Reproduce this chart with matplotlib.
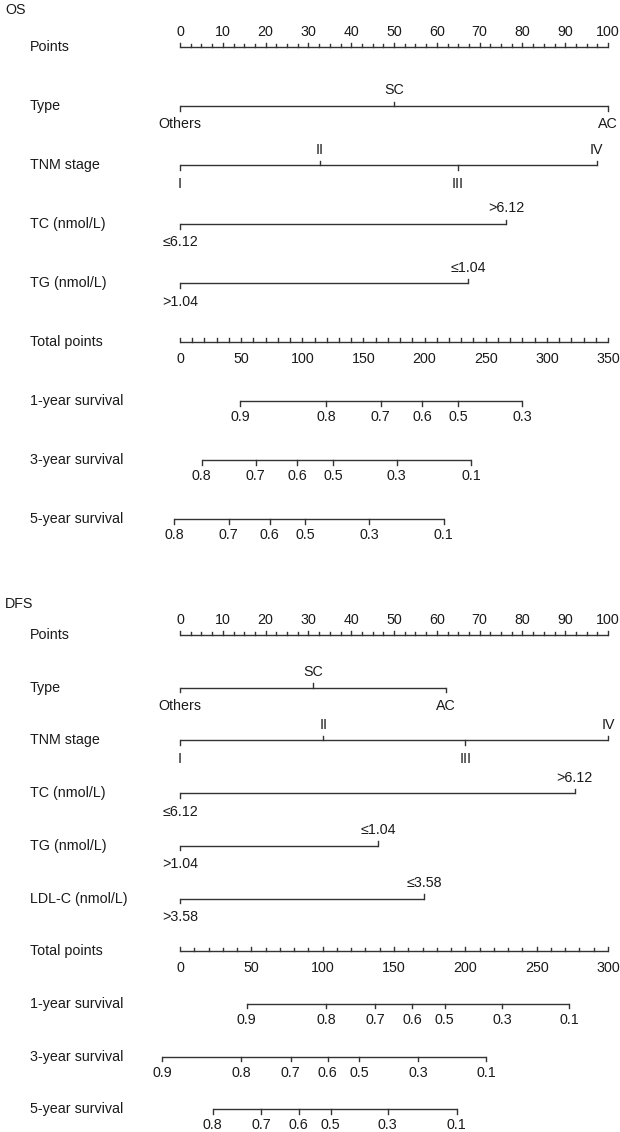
import matplotlib
matplotlib.use('Agg')
import matplotlib.pyplot as plt
from matplotlib.transforms import blended_transform_factory
import numpy as np

plt.rcParams['font.family'] = ['Liberation Sans', 'DejaVu Sans']

# ---------------- data ----------------
# OS nomogram
os_type_labels = ['Others', 'SC', 'AC']
os_type_points = [0, 50.0, 100.0]
os_tnm_labels = ['I', 'II', 'III', 'IV']
os_tnm_points = [0, 32.6, 64.9, 97.4]
os_tc_labels = ['\u22646.12', '>6.12']
os_tc_points = [0, 76.2]
os_tg_labels = ['>1.04', '\u22641.04']
os_tg_points = [0, 67.4]
os_total_max = 350
os_surv1_labels = ['0.9', '0.8', '0.7', '0.6', '0.5', '0.3']
os_surv1_total = [49.1, 119.6, 164.2, 198.1, 227.2, 279.6]
os_surv3_labels = ['0.8', '0.7', '0.6', '0.5', '0.3', '0.1']
os_surv3_total = [17.7, 62.0, 95.7, 125.0, 177.1, 237.9]
os_surv5_labels = ['0.8', '0.7', '0.6', '0.5', '0.3', '0.1']
os_surv5_total = [-4.9, 39.7, 73.3, 102.1, 154.8, 215.6]

# DFS nomogram
dfs_type_labels = ['Others', 'SC', 'AC']
dfs_type_points = [0, 31.1, 62.1]
dfs_tnm_labels = ['I', 'II', 'III', 'IV']
dfs_tnm_points = [0, 33.5, 66.7, 100.0]
dfs_tc_labels = ['\u22646.12', '>6.12']
dfs_tc_points = [0, 92.2]
dfs_tg_labels = ['>1.04', '\u22641.04']
dfs_tg_points = [0, 46.3]
dfs_ldl_labels = ['>3.58', '\u22643.58']
dfs_ldl_points = [0, 57.1]
dfs_total_max = 300
dfs_surv1_labels = ['0.9', '0.8', '0.7', '0.6', '0.5', '0.3', '0.1']
dfs_surv1_total = [46.8, 102.5, 136.6, 162.9, 185.4, 225.8, 272.9]
dfs_surv3_labels = ['0.9', '0.8', '0.7', '0.6', '0.5', '0.3', '0.1']
dfs_surv3_total = [-12.5, 42.9, 77.5, 103.6, 125.7, 167.0, 214.5]
dfs_surv5_labels = ['0.8', '0.7', '0.6', '0.5', '0.3', '0.1']
dfs_surv5_total = [22.9, 57.1, 83.1, 105.6, 145.7, 193.9]

# ---------------- layout ----------------
W, H = 620, 1132
FS = 10.3
LC = '#333333'
TC = '#1a1a1a'
LW = 1.0

fig = plt.figure(figsize=(W / 100, H / 100), dpi=100)
ax = fig.add_axes([180 / W, 0, 428 / W, 1])
ax.set_xlim(0, 100)
ax.set_ylim(H, 0)
ax.axis('off')
trans_lab = blended_transform_factory(fig.transFigure, ax.transData)

TICK = 4.5
ABOVE = -15.5
BELOW = 18.5


def row_label(y, text):
    ax.text(30 / W, y, text, transform=trans_lab, ha='left', va='center',
            fontsize=FS, color=TC)


def points_axis(y, label):
    row_label(y, label)
    ax.plot([0, 100], [y, y], color=LC, lw=LW, clip_on=False, solid_capstyle='butt')
    for v in np.arange(0, 100.01, 2.5):
        major = abs(v % 10) < 1e-6
        ax.plot([v, v], [y, y - (TICK if major else TICK * 0.6)], color=LC, lw=LW,
                clip_on=False)
    for v in range(0, 101, 10):
        ax.text(v, y + ABOVE, str(v), ha='center', va='center', fontsize=FS, color=TC)


def var_row(y, label, pts, labels, sides):
    row_label(y, label)
    ax.plot([min(pts), max(pts)], [y, y], color=LC, lw=LW, clip_on=False,
            solid_capstyle='butt')
    for p, t, s in zip(pts, labels, sides):
        d = -1 if s == 'above' else 1
        ax.plot([p, p], [y, y + d * TICK], color=LC, lw=LW, clip_on=False)
        ax.text(p, y + (ABOVE if s == 'above' else BELOW), t, ha='center',
                va='center', fontsize=FS, color=TC)


def total_axis(y, label, tmax):
    row_label(y, label)
    ax.plot([0, 100], [y, y], color=LC, lw=LW, clip_on=False, solid_capstyle='butt')
    for t in range(0, tmax + 1, 10):
        x = t / tmax * 100
        major = t % 50 == 0
        ax.plot([x, x], [y, y - (TICK if major else TICK * 0.8)], color=LC, lw=LW,
                clip_on=False)
    for t in range(0, tmax + 1, 50):
        ax.text(t / tmax * 100, y + 17, str(t), ha='center', va='center', fontsize=FS,
                color=TC)


def surv_row(y, label, totals, labels, tmax):
    row_label(y, label)
    xs = [t / tmax * 100 for t in totals]
    ax.plot([min(xs), max(xs)], [y, y], color=LC, lw=LW, clip_on=False,
            solid_capstyle='butt')
    for x, t in zip(xs, labels):
        ax.plot([x, x], [y, y + TICK], color=LC, lw=LW, clip_on=False)
        ax.text(x, y + 16, t, ha='center', va='center', fontsize=FS, color=TC)


# ---------------- OS ----------------
ax.text(5 / W, 10, 'OS', transform=trans_lab, ha='left', va='center', fontsize=FS,
        color=TC)
y0, dy = 47, 59
points_axis(y0, 'Points')
var_row(y0 + dy, 'Type', os_type_points, os_type_labels, ['below', 'above', 'below'])
var_row(y0 + 2 * dy, 'TNM stage', os_tnm_points, os_tnm_labels,
        ['below', 'above', 'below', 'above'])
var_row(y0 + 3 * dy, 'TC (nmol/L)', os_tc_points, os_tc_labels, ['below', 'above'])
var_row(y0 + 4 * dy, 'TG (nmol/L)', os_tg_points, os_tg_labels, ['below', 'above'])
total_axis(y0 + 5 * dy, 'Total points', os_total_max)
surv_row(y0 + 6 * dy, '1-year survival', os_surv1_total, os_surv1_labels, os_total_max)
surv_row(y0 + 7 * dy, '3-year survival', os_surv3_total, os_surv3_labels, os_total_max)
surv_row(y0 + 8 * dy, '5-year survival', os_surv5_total, os_surv5_labels, os_total_max)

# ---------------- DFS ----------------
ax.text(5 / W, 604, 'DFS', transform=trans_lab, ha='left', va='center', fontsize=FS,
        color=TC)
y0, dy = 635, 52.7
points_axis(y0, 'Points')
var_row(y0 + dy, 'Type', dfs_type_points, dfs_type_labels, ['below', 'above', 'below'])
var_row(y0 + 2 * dy, 'TNM stage', dfs_tnm_points, dfs_tnm_labels,
        ['below', 'above', 'below', 'above'])
var_row(y0 + 3 * dy, 'TC (nmol/L)', dfs_tc_points, dfs_tc_labels, ['below', 'above'])
var_row(y0 + 4 * dy, 'TG (nmol/L)', dfs_tg_points, dfs_tg_labels, ['below', 'above'])
var_row(y0 + 5 * dy, 'LDL-C (nmol/L)', dfs_ldl_points, dfs_ldl_labels, ['below', 'above'])
total_axis(y0 + 6 * dy, 'Total points', dfs_total_max)
surv_row(y0 + 7 * dy, '1-year survival', dfs_surv1_total, dfs_surv1_labels, dfs_total_max)
surv_row(y0 + 8 * dy, '3-year survival', dfs_surv3_total, dfs_surv3_labels, dfs_total_max)
surv_row(y0 + 9 * dy, '5-year survival', dfs_surv5_total, dfs_surv5_labels, dfs_total_max)

fig.savefig('out.png', dpi=100, facecolor='white')
